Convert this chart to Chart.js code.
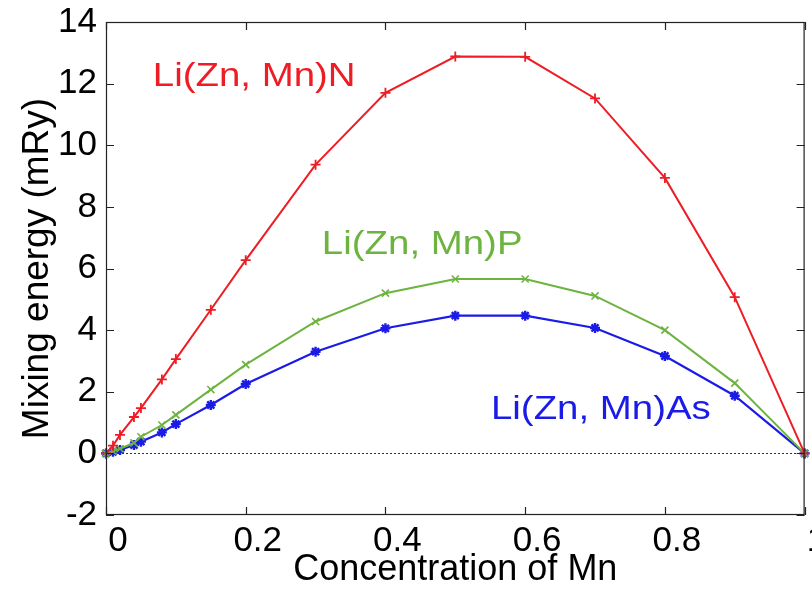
<!DOCTYPE html>
<html>
<head>
<meta charset="utf-8">
<script src="https://cdn.jsdelivr.net/npm/chart.js@4.4.1/dist/chart.umd.min.js"></script>
<style>
  html, body { margin: 0; padding: 0; background: #fff; }
  #contenedor { width: 812px; height: 592px; }
</style>
</head>
<body>
<div id="contenedor"><canvas id="graficoMezcla"></canvas></div>
<script>
// Concentración de Mn y energía de mezcla (mRy) de cada compuesto
const concentraciones = [0, 0.01, 0.02, 0.04, 0.05, 0.08, 0.1, 0.15, 0.2, 0.3, 0.4, 0.5, 0.6, 0.7, 0.8, 0.9, 1];
const energiaN  = [0, 0.25, 0.6, 1.18, 1.47, 2.4, 3.06, 4.66, 6.27, 9.37, 11.7, 12.88, 12.87, 11.52, 8.94, 5.07, 0];
const energiaP  = [0, 0.07, 0.15, 0.34, 0.54, 0.92, 1.25, 2.07, 2.88, 4.28, 5.2, 5.66, 5.66, 5.11, 4.0, 2.28, 0];
const energiaAs = [0, 0.05, 0.11, 0.27, 0.38, 0.68, 0.95, 1.57, 2.25, 3.3, 4.06, 4.47, 4.47, 4.07, 3.16, 1.87, 0];

const compuestos = ['Li(Zn, Mn)N', 'Li(Zn, Mn)P', 'Li(Zn, Mn)As'];
const ticksX = [0, 0.2, 0.4, 0.6, 0.8, 1];
const ticksY = [-2, 0, 2, 4, 6, 8, 10, 12, 14];

const fuente = "'Liberation Sans', Arial, sans-serif";
const colores = ['#ee1c24', '#6db33f', '#1b1be8'];

function puntos(valores) {
    return concentraciones.map((c, i) => ({ x: c, y: valores[i] }));
}

// Marco cerrado, marcas hacia dentro, línea punteada en cero y nombres de las curvas
const marco = {
    id: 'marco',
    beforeDatasetsDraw(chart) {
        const { ctx, chartArea: a, scales: { y } } = chart;
        const y0 = Math.round(y.getPixelForValue(0)) + 0.5;
        ctx.save();
        ctx.strokeStyle = '#333';
        ctx.lineWidth = 1;
        ctx.setLineDash([2, 2]);
        ctx.beginPath();
        ctx.moveTo(a.left, y0);
        ctx.lineTo(a.right, y0);
        ctx.stroke();
        ctx.restore();
    },
    afterDraw(chart, args, opts) {
        const { ctx, chartArea: a, scales: { x, y } } = chart;
        const largo = 8;
        ctx.save();
        ctx.strokeStyle = '#222';
        ctx.lineWidth = 1.2;
        ctx.strokeRect(a.left + 0.5, a.top + 0.5, a.right - a.left - 1, a.bottom - a.top - 1);
        ctx.beginPath();
        ticksX.forEach(v => {
            const px = Math.round(x.getPixelForValue(v)) + 0.5;
            ctx.moveTo(px, a.bottom); ctx.lineTo(px, a.bottom - largo);
            ctx.moveTo(px, a.top); ctx.lineTo(px, a.top + largo);
        });
        ticksY.forEach(v => {
            const py = Math.round(y.getPixelForValue(v)) + 0.5;
            ctx.moveTo(a.left, py); ctx.lineTo(a.left + largo, py);
            ctx.moveTo(a.right, py); ctx.lineTo(a.right - largo, py);
        });
        ctx.stroke();

        // texto algo ensanchado, como en la figura original
        ctx.font = '34px ' + fuente;
        ctx.textBaseline = 'middle';
        ctx.textAlign = 'left';
        opts.posiciones.forEach((p, i) => {
            const px = x.getPixelForValue(p[0]);
            const py = y.getPixelForValue(p[1]);
            ctx.save();
            ctx.translate(px, py);
            ctx.scale(1.13, 1);
            ctx.fillStyle = colores[i];
            ctx.fillText(compuestos[i], 0, 0);
            ctx.restore();
        });
        ctx.restore();
    }
};

const ctx = document.getElementById('graficoMezcla').getContext('2d');
const chart = new Chart(ctx, {
    type: 'scatter',
    data: {
        datasets: [
            {
                label: compuestos[0],
                data: puntos(energiaN),
                borderColor: colores[0],
                backgroundColor: colores[0],
                borderWidth: 2,
                pointStyle: 'cross',
                pointRadius: 5,
                pointBorderWidth: 1.8
            },
            {
                label: compuestos[1],
                data: puntos(energiaP),
                borderColor: colores[1],
                backgroundColor: colores[1],
                borderWidth: 2,
                pointStyle: 'crossRot',
                pointRadius: 5,
                pointBorderWidth: 1.6
            },
            {
                label: compuestos[2],
                data: puntos(energiaAs),
                borderColor: colores[2],
                backgroundColor: colores[2],
                borderWidth: 2.2,
                pointStyle: 'star',
                pointRadius: 5,
                pointBorderWidth: 2.4
            }
        ].map(d => Object.assign(d, { showLine: true, clip: false, tension: 0 }))
    },
    options: {
        responsive: true,
        maintainAspectRatio: false,
        animation: false,
        layout: { padding: { top: 22, right: 4, left: 0, bottom: 0 } },
        plugins: {
            legend: { display: false },
            tooltip: { enabled: false },
            marco: { posiciones: [[0.067, 12.22], [0.309, 6.77], [0.551, 1.41]] }
        },
        scales: {
            x: {
                type: 'linear',
                min: 0,
                max: 1,
                afterBuildTicks: s => { s.ticks = ticksX.map(v => ({ value: v })); },
                afterFit: s => { s.height = 77; s.paddingLeft = 0; s.paddingRight = 0; },
                grid: { display: false, drawTicks: false },
                border: { display: false },
                ticks: {
                    color: '#000',
                    font: { family: fuente, size: 35 },
                    padding: 5,
                    labelOffset: 12,
                    maxRotation: 0,
                    callback: v => String(v)
                },
                title: {
                    display: true,
                    text: 'Concentration of Mn',
                    color: '#000',
                    font: { family: fuente, size: 36 },
                    padding: { top: 0, bottom: 0 }
                }
            },
            y: {
                type: 'linear',
                min: -2,
                max: 14,
                afterBuildTicks: s => { s.ticks = ticksY.map(v => ({ value: v })); },
                afterFit: s => { s.width = 106; s.paddingTop = 0; s.paddingBottom = 0; },
                grid: { display: false, drawTicks: false },
                border: { display: false },
                ticks: {
                    color: '#000',
                    font: { family: fuente, size: 35 },
                    padding: 9
                },
                title: {
                    display: true,
                    text: 'Mixing energy (mRy)',
                    color: '#000',
                    font: { family: fuente, size: 37 },
                    padding: { top: 16, bottom: 0 }
                }
            }
        }
    },
    plugins: [marco]
});
</script>
</body>
</html>
